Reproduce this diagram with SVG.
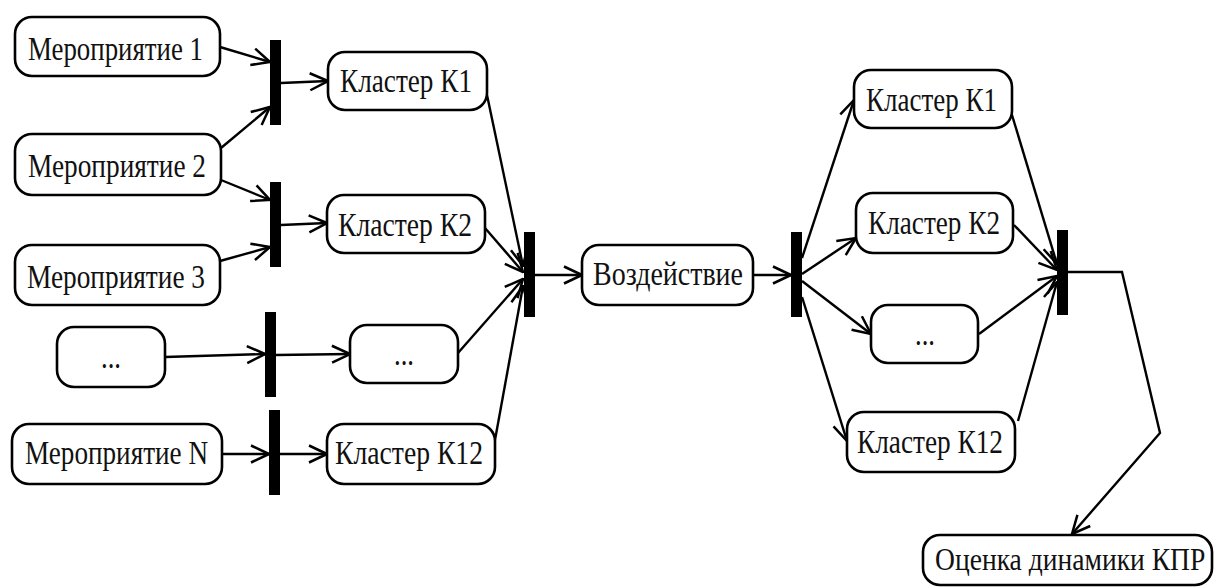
<svg xmlns="http://www.w3.org/2000/svg" width="1214" height="587" viewBox="0 0 1214 587">
<defs>
<marker id="arr" markerUnits="userSpaceOnUse" viewBox="0 0 20 20" refX="19" refY="10" markerWidth="20" markerHeight="20" orient="auto">
<path d="M1,1.5 L19,10 L1,18.5" fill="none" stroke="#000" stroke-width="2.5"/>
</marker>
<style>
.box{fill:#fff;stroke:#000;stroke-width:2.6}
.bar{fill:#000}
.t{font-family:"Liberation Serif","Times New Roman",serif;font-size:34px;fill:#111}
.c{fill:none;stroke:#000;stroke-width:2.4}
.a{marker-end:url(#arr)}
</style>
</defs>
<rect width="1214" height="587" fill="#fff"/>
<g id="connectors">
<line class="c a" x1="220" y1="47" x2="270" y2="62"/>
<line class="c a" x1="221" y1="148" x2="270" y2="107"/>
<line class="c a" x1="221" y1="180" x2="270" y2="200"/>
<line class="c a" x1="220" y1="261" x2="270" y2="247"/>
<line class="c a" x1="165" y1="357" x2="265" y2="354"/>
<line class="c a" x1="222" y1="454" x2="269" y2="454"/>
<line class="c a" x1="281" y1="83" x2="328" y2="81"/>
<line class="c a" x1="281" y1="225" x2="327" y2="223"/>
<line class="c a" x1="276" y1="355" x2="350" y2="354"/>
<line class="c a" x1="280" y1="454" x2="327" y2="454"/>
<line class="c a" x1="487" y1="95" x2="523" y2="266"/>
<line class="c a" x1="485" y1="228" x2="523" y2="272"/>
<line class="c a" x1="458" y1="353" x2="523" y2="279"/>
<line class="c a" x1="495" y1="440" x2="523" y2="286"/>
<line class="c a" x1="535" y1="275" x2="582" y2="275"/>
<line class="c a" x1="753" y1="275" x2="791" y2="275"/>
<line class="c a" x1="802" y1="258" x2="854" y2="100"/>
<line class="c a" x1="802" y1="274" x2="856" y2="238"/>
<line class="c a" x1="802" y1="281" x2="871" y2="334"/>
<line class="c a" x1="802" y1="297" x2="847" y2="441"/>
<line class="c a" x1="1012" y1="115" x2="1057" y2="264"/>
<line class="c a" x1="1014" y1="225" x2="1057" y2="270"/>
<line class="c a" x1="979" y1="334" x2="1057" y2="276"/>
<line class="c a" x1="1018" y1="421" x2="1057" y2="282"/>
<polyline class="c a" points="1068,272 1122,272 1160,433 1072,534"/>
</g>
<g id="bars">
<rect class="bar" x="270" y="40" width="11" height="85"/>
<rect class="bar" x="270" y="182" width="11" height="85"/>
<rect class="bar" x="265" y="312" width="11" height="85"/>
<rect class="bar" x="269" y="410" width="11" height="85"/>
<rect class="bar" x="524" y="232" width="11" height="85"/>
<rect class="bar" x="791" y="232" width="11" height="85"/>
<rect class="bar" x="1057" y="230" width="11" height="85"/>
</g>
<g id="m1"><rect class="box" x="15" y="17" width="205" height="59" rx="17"/><text class="t" x="28" y="60" textLength="175" lengthAdjust="spacingAndGlyphs">Мероприятие 1</text></g>
<g id="m2"><rect class="box" x="15" y="134" width="206" height="61" rx="17"/><text class="t" x="28" y="177" textLength="178" lengthAdjust="spacingAndGlyphs">Мероприятие 2</text></g>
<g id="m3"><rect class="box" x="15" y="245" width="205" height="60" rx="17"/><text class="t" x="27" y="288" textLength="178" lengthAdjust="spacingAndGlyphs">Мероприятие 3</text></g>
<g id="mdots"><rect class="box" x="57" y="327" width="108" height="60" rx="17"/><text class="t" x="101" y="368" textLength="20" lengthAdjust="spacingAndGlyphs">...</text></g>
<g id="mn"><rect class="box" x="12" y="424" width="210" height="60" rx="17"/><text class="t" x="25" y="464" textLength="183" lengthAdjust="spacingAndGlyphs">Мероприятие N</text></g>
<g id="lk1"><rect class="box" x="328" y="52" width="159" height="58" rx="17"/><text class="t" x="340" y="92" textLength="132" lengthAdjust="spacingAndGlyphs">Кластер К1</text></g>
<g id="lk2"><rect class="box" x="327" y="195" width="158" height="58" rx="17"/><text class="t" x="338" y="236" textLength="134" lengthAdjust="spacingAndGlyphs">Кластер К2</text></g>
<g id="ldots"><rect class="box" x="350" y="325" width="108" height="58" rx="17"/><text class="t" x="394" y="365" textLength="20" lengthAdjust="spacingAndGlyphs">...</text></g>
<g id="lk12"><rect class="box" x="327" y="424" width="168" height="60" rx="17"/><text class="t" x="335" y="464" textLength="148" lengthAdjust="spacingAndGlyphs">Кластер К12</text></g>
<g id="vozd"><rect class="box" x="582" y="245" width="171" height="60" rx="17"/><text class="t" x="593" y="285" textLength="150" lengthAdjust="spacingAndGlyphs">Воздействие</text></g>
<g id="rk1"><rect class="box" x="854" y="70" width="158" height="58" rx="17"/><text class="t" x="866" y="111" textLength="131" lengthAdjust="spacingAndGlyphs">Кластер К1</text></g>
<g id="rk2"><rect class="box" x="856" y="193" width="157" height="60" rx="17"/><text class="t" x="868" y="234" textLength="132" lengthAdjust="spacingAndGlyphs">Кластер К2</text></g>
<g id="rdots"><rect class="box" x="871" y="305" width="107" height="58" rx="17"/><text class="t" x="915" y="345" textLength="20" lengthAdjust="spacingAndGlyphs">...</text></g>
<g id="rk12"><rect class="box" x="847" y="412" width="168" height="60" rx="17"/><text class="t" x="857" y="453" textLength="146" lengthAdjust="spacingAndGlyphs">Кластер К12</text></g>
<g id="ocenka"><rect class="box" x="923" y="535" width="289" height="50" rx="17"/><text class="t" transform="translate(935,570) scale(0.85,1)" x="0" y="0" textLength="318" lengthAdjust="spacingAndGlyphs" style="font-size:32px">Оценка динамики КПР</text></g>
</svg>
